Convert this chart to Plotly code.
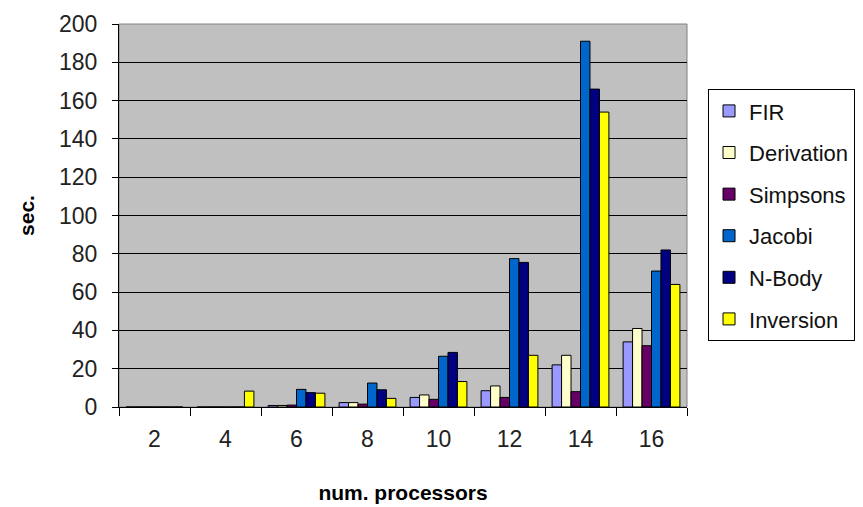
import plotly.graph_objects as go

categories = ["2", "4", "6", "8", "10", "12", "14", "16"]
fir = [0, 0, 0.8, 2.3, 5, 8.5, 22, 34]
derivation = [0, 0, 0.8, 2.3, 6.3, 11, 27, 41]
simpsons = [0, 0, 1, 1.5, 4, 5, 8, 32]
jacobi = [0, 0, 9.2, 12.5, 26.5, 77.5, 191, 71]
nbody = [0, 0, 7.5, 9, 28.5, 75.5, 166, 82]
inversion = [0, 8.3, 7.2, 4.5, 13.3, 27, 154, 64]

series = [
    ("FIR", fir, "#9999FF"),
    ("Derivation", derivation, "#FFFFCC"),
    ("Simpsons", simpsons, "#660066"),
    ("Jacobi", jacobi, "#0066CC"),
    ("N-Body", nbody, "#000080"),
    ("Inversion", inversion, "#FFFF00"),
]

font_family = "Liberation Sans, Arial, sans-serif"

fig = go.Figure()
for name, vals, color in series:
    fig.add_trace(go.Bar(
        x=categories, y=vals, name=name, legendgroup=name,
        marker=dict(color=color, line=dict(color="black", width=1)),
    ))

fig.update_layout(
    width=855, height=499,
    margin=dict(l=111, r=176, t=16, b=100, autoexpand=False),
    paper_bgcolor="white",
    plot_bgcolor="#C0C0C0",
    barmode="group", bargap=0.2, bargroupgap=0,
    font=dict(family=font_family, size=21, color="black"),
    showlegend=True,
    legend=dict(
        x=1.037, y=0.830, xanchor="left", yanchor="top",
        bordercolor="black", borderwidth=1, bgcolor="white",
        font=dict(size=22, color="#111"),
        tracegroupgap=10, itemwidth=30,
        entrywidth=118, entrywidthmode="pixels",
    ),
    xaxis=dict(
        type="category", showline=True, linecolor="black", linewidth=1,
        ticks="outside", ticklen=8, tickcolor="black", tickson="boundaries",
        showgrid=False, automargin=False,
        tickfont=dict(size=23, color="#222"),
        ticklabelstandoff=11,
        title=dict(text="<b>num. processors</b>", font=dict(size=21), standoff=34),
    ),
    yaxis=dict(
        range=[0, 200], dtick=20, showline=True, linecolor="black", linewidth=1,
        ticks="outside", ticklen=6, tickcolor="black", automargin=False,
        showgrid=True, gridcolor="black", gridwidth=1, zeroline=False,
        tickfont=dict(size=23, color="#222"),
        ticklabelstandoff=10,
        title=dict(text="<b>sec.</b>", font=dict(size=21), standoff=18),
    ),
)

fig.add_shape(type="rect", xref="paper", yref="paper", x0=0, y0=0, x1=1, y1=1,
              line=dict(color="#808080", width=1), layer="below")

fig.write_html("out.html")
